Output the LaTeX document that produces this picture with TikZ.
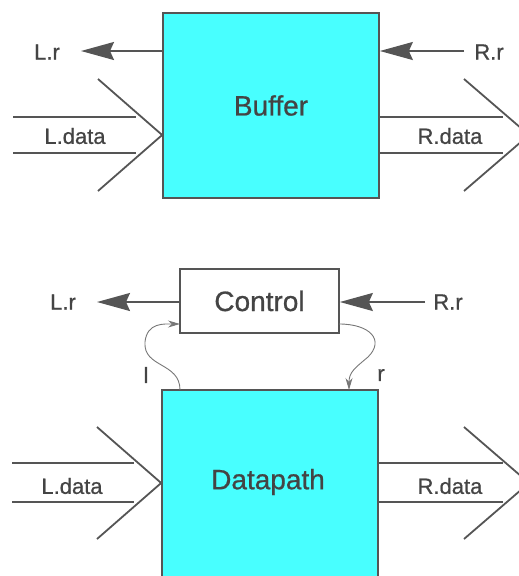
\documentclass[tikz,border=0pt]{standalone}
\usepackage{fontspec}
\setmainfont{Liberation Sans}[BoldFont=Liberation Sans, BoldFeatures={FakeBold=0.7}]
\usetikzlibrary{arrows.meta}
\definecolor{cy}{RGB}{72,255,255}
\definecolor{ln}{RGB}{85,85,85}
\definecolor{tx}{RGB}{68,68,68}
\begin{document}
\begin{tikzpicture}[x=1pt,y=-1pt,
  box/.style={draw=ln, line width=1.7pt, fill=cy, inner sep=0pt},
  ctrlbox/.style={draw=ln, line width=1.7pt, fill=white, inner sep=0pt},
  big/.style={font=\fontsize{28}{30}\selectfont\bfseries, text=tx},
  small/.style={font=\fontsize{22}{24}\selectfont\bfseries, text=tx},
  sig/.style={draw=ln, line width=1.8pt, -{Stealth[length=33pt,width=18pt,inset=4pt]}},
  wire/.style={draw=ln, line width=1.8pt},
  thinarr/.style={draw=ln!80, line width=0.9pt, -{Stealth[length=12pt,width=7pt]}}]
\useasboundingbox (0,0) rectangle (519,576);
\clip (0,0) rectangle (519,576);

% ---------- top: Buffer ----------
\node[box, minimum width=216pt, minimum height=185pt, big] (buf) at (271,105.5) {Buffer};
\node[small] (blr) at (47,52) {L.r};
\node[small] (brr) at (489,52) {R.r};
\node[small] (bld) at (75,136) {L.data};
\node[small] (brd) at (450,136) {R.data};
\coordinate (blrtip) at (81,51);
\coordinate (brrs) at (464,51);
\draw[sig] (buf.west |- blrtip) -- (blrtip);
\draw[sig] (brrs) -- (buf.east |- brrs);
% left data
\coordinate (bla) at (13,117); \coordinate (blae) at (136,117);
\coordinate (blb) at (13,153); \coordinate (blbe) at (136,153);
\draw[wire] (bla) -- (blae);
\draw[wire] (blb) -- (blbe);
\coordinate (blc1) at (98,79); \coordinate (blc2) at (98,191);
\draw[wire] (blc1) -- (buf.west |- 0,135) -- (blc2);
% right data
\coordinate (brae) at (503,117); \coordinate (brbe) at (503,153);
\draw[wire] (buf.east |- brae) -- (brae);
\draw[wire] (buf.east |- brbe) -- (brbe);
\coordinate (brc1) at (464,79); \coordinate (brct) at (529,135); \coordinate (brc2) at (464,191);
\draw[wire] (brc1) -- (brct) -- (brc2);

% ---------- bottom: Control + Datapath ----------
\node[ctrlbox, minimum width=159pt, minimum height=64pt, big] (ctl) at (259.5,301) {Control};
\node[box, minimum width=216pt, minimum height=195pt] (dp) at (270,487.5) {};
\node[big] (dpt) at (268,482) {Datapath};
\node[small] (clr) at (63,302) {L.r};
\node[small] (crr) at (448,302) {R.r};
\coordinate (clrtip) at (97,302);
\coordinate (crrs) at (425,302);
\draw[sig] (ctl.west |- clrtip) -- (clrtip);
\draw[sig] (crrs) -- (ctl.east |- crrs);
% handshake curves
\coordinate (lstart) at (180,390); \coordinate (lend) at (180,324);
\draw[thinarr] (lstart) .. controls (180,362) and (143,368) .. (145,342) .. controls (147,322) and (165,324) .. (lend);
\node[small] (ll) at (146,375) {l};
\coordinate (rstart) at (339,324); \coordinate (rend) at (349,390);
\draw[thinarr] (rstart) .. controls (370,324) and (385,340) .. (368,357) .. controls (355,368) and (349,372) .. (rend);
\node[small] (rl) at (381,375) {r};
% left data
\coordinate (dla) at (12,463); \coordinate (dlae) at (134,463);
\coordinate (dlb) at (12,502); \coordinate (dlbe) at (134,502);
\draw[wire] (dla) -- (dlae);
\draw[wire] (dlb) -- (dlbe);
\node[small] (dld) at (72,486) {L.data};
\coordinate (dlc1) at (97,427); \coordinate (dlc2) at (97,539);
\draw[wire] (dlc1) -- (dp.west |- 0,483) -- (dlc2);
% right data
\coordinate (drae) at (503,463); \coordinate (drbe) at (503,502);
\draw[wire] (dp.east |- drae) -- (drae);
\draw[wire] (dp.east |- drbe) -- (drbe);
\node[small] (drd) at (450,486) {R.data};
\coordinate (drc1) at (464,427); \coordinate (drct) at (529,483); \coordinate (drc2) at (464,539);
\draw[wire] (drc1) -- (drct) -- (drc2);
\end{tikzpicture}
\end{document}
